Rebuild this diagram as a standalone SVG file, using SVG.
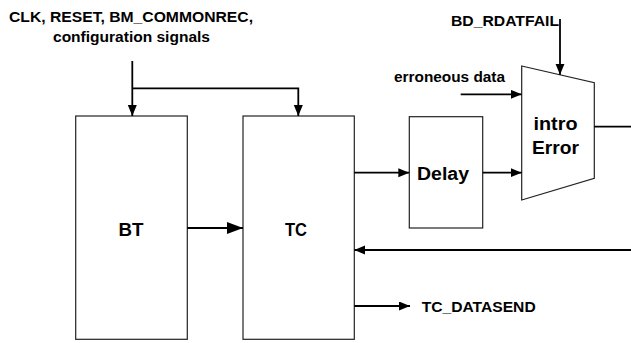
<svg xmlns="http://www.w3.org/2000/svg" width="631" height="343" viewBox="0 0 631 343">
<style>
.box{fill:#fff;stroke:#222;stroke-width:1.2}
.ln{fill:none;stroke:#000;stroke-width:1.8}
.lbl{font-family:"Liberation Sans",Arial,sans-serif;font-weight:bold;font-size:14px;fill:#000}
.big{font-family:"Liberation Sans",Arial,sans-serif;font-weight:bold;font-size:18px;fill:#000}
</style>
<defs>
<marker id="ah" markerUnits="userSpaceOnUse" markerWidth="12" markerHeight="10" refX="11" refY="4.5" orient="auto">
<path d="M0,0 L11,4.5 L0,9 Z" fill="#000"/>
</marker>
<marker id="ahb" markerUnits="userSpaceOnUse" markerWidth="17" markerHeight="13" refX="16" refY="6" orient="auto">
<path d="M0,0 L16,6 L0,12 Z" fill="#000"/>
</marker>
</defs>
<rect width="631" height="343" fill="#fff"/>
<g id="node-BT">
<rect class="box" x="75.7" y="116" width="111.6" height="223.3"/>
<text class="big" x="131" y="236" text-anchor="middle" textLength="25" lengthAdjust="spacingAndGlyphs">BT</text>
</g>
<g id="node-TC">
<rect class="box" x="243" y="116" width="111.3" height="223.3"/>
<text class="big" x="296" y="236" text-anchor="middle" textLength="22" lengthAdjust="spacingAndGlyphs">TC</text>
</g>
<g id="node-Delay">
<rect class="box" x="409.3" y="116.7" width="73.4" height="111.3"/>
<text class="big" x="443" y="179.5" text-anchor="middle" textLength="52" lengthAdjust="spacingAndGlyphs">Delay</text>
</g>
<g id="node-introError">
<polygon class="box" points="521.7,66 594.3,82.7 594.3,178.3 521.7,200"/>
<text class="big" x="555.5" y="129.5" text-anchor="middle" textLength="44" lengthAdjust="spacingAndGlyphs">intro</text>
<text class="big" x="555.5" y="153.5" text-anchor="middle" textLength="47" lengthAdjust="spacingAndGlyphs">Error</text>
</g>
<g id="labels">
<text class="lbl" x="9" y="22" textLength="244" lengthAdjust="spacingAndGlyphs">CLK, RESET, BM_COMMONREC,</text>
<text class="lbl" x="53" y="42" textLength="157" lengthAdjust="spacingAndGlyphs">configuration signals</text>
<text class="lbl" x="451" y="26" textLength="108" lengthAdjust="spacingAndGlyphs">BD_RDATFAIL</text>
<text class="lbl" x="394" y="81.5" textLength="111" lengthAdjust="spacingAndGlyphs">erroneous data</text>
<text class="lbl" x="421.7" y="311.5" textLength="114" lengthAdjust="spacingAndGlyphs">TC_DATASEND</text>
</g>
<g id="connectors">
<path class="ln" d="M132.3,61 V116" marker-end="url(#ah)"/>
<path class="ln" d="M132.3,88.3 H298.3 V116" marker-end="url(#ah)"/>
<path class="ln" d="M187.3,228 H243" stroke-width="4.5" marker-end="url(#ahb)"/>
<path class="ln" d="M354.3,172.7 H409.3" marker-end="url(#ah)"/>
<path class="ln" d="M482.7,172.7 H521.7" marker-end="url(#ah)"/>
<path class="ln" d="M460.7,94.3 H521.7" marker-end="url(#ah)"/>
<path class="ln" d="M560,19 V74.8" stroke-width="1.2" marker-end="url(#ah)"/>
<path class="ln" d="M594.3,126.7 H631"/>
<path class="ln" d="M631,250 H354.3" marker-end="url(#ah)"/>
<path class="ln" d="M354.3,306 H410" marker-end="url(#ah)"/>
</g>
</svg>
